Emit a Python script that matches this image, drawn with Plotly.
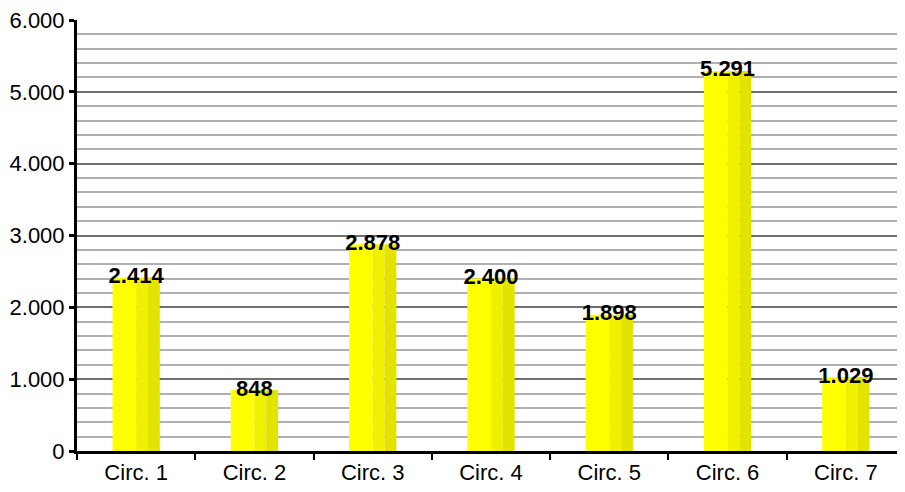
import plotly.graph_objects as go

categories = ["Circ. 1", "Circ. 2", "Circ. 3", "Circ. 4", "Circ. 5", "Circ. 6", "Circ. 7"]
values = [2414, 848, 2878, 2400, 1898, 5291, 1029]
y_ticks = [0, 1000, 2000, 3000, 4000, 5000, 6000]

labels = [f"{v:,}".replace(",", ".") for v in values]

fig = go.Figure()
# striped yellow bars (three overlaid slices)
stripes = [(-0.2, 0.2, "#FFFF00"), (0.0, 0.1, "#F0F000"), (0.1, 0.1, "#E3E300")]
for off, w, col in stripes:
    fig.add_trace(go.Bar(
        x=categories, y=values, offset=off, width=w,
        marker=dict(color=col, line=dict(width=0)),
        hoverinfo="skip", showlegend=False,
    ))

fig.add_trace(go.Scatter(
    x=categories, y=values, mode="text", text=labels,
    textposition="middle center",
    textfont=dict(family="Arial, Liberation Sans", size=22, color="black", weight="bold"),
    showlegend=False, hoverinfo="skip", cliponaxis=False,
))

fig.update_layout(
    width=897, height=484,
    margin=dict(l=69, r=0, t=12, b=41),
    plot_bgcolor="white", paper_bgcolor="white",
    barmode="overlay",
    separators=",.",
    font=dict(family="Arial, Liberation Sans", size=22, color="black"),
    xaxis=dict(
        type="category",
        showline=True, linecolor="black", linewidth=3,
        ticks="outside", tickson="boundaries", ticklen=6, tickwidth=2, tickcolor="black",
        showgrid=False,
        tickfont=dict(size=22),
        automargin=False,
    ),
    yaxis=dict(
        range=[0, 6000],
        tickvals=y_ticks,
        tickformat=",d",
        showline=True, linecolor="black", linewidth=3,
        ticks="outside", ticklen=5, tickwidth=3, tickcolor="black",
        showgrid=True, gridcolor="#707070", gridwidth=2,
        minor=dict(dtick=200, showgrid=True, gridcolor="#b0b0b0", gridwidth=2, ticks=""),
        zeroline=False,
        tickfont=dict(size=22),
        automargin=False,
        ticklabeloverflow="allow",
    ),
)

fig.write_html("out.html")
